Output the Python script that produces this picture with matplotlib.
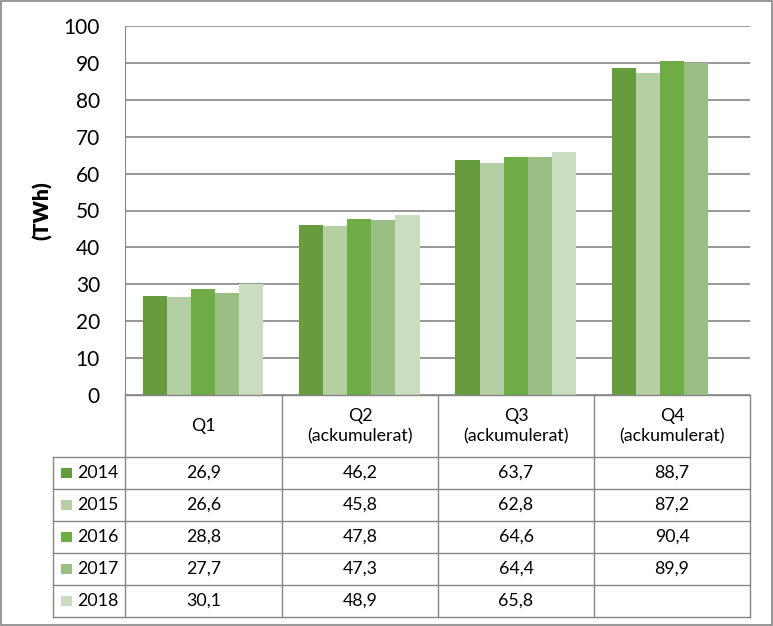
import matplotlib
matplotlib.use("Agg")
import matplotlib.pyplot as plt
from matplotlib.patches import Rectangle
from matplotlib.lines import Line2D
import numpy as np

plt.rcParams['font.family'] = ['Lato', 'DejaVu Sans']

categories = ["Q1", "Q2\n(ackumulerat)", "Q3\n(ackumulerat)", "Q4\n(ackumulerat)"]
years = ["2014", "2015", "2016", "2017", "2018"]
v2014 = [26.9, 46.2, 63.7, 88.7]
v2015 = [26.6, 45.8, 62.8, 87.2]
v2016 = [28.8, 47.8, 64.6, 90.4]
v2017 = [27.7, 47.3, 64.4, 89.9]
v2018 = [30.1, 48.9, 65.8, None]
series = [v2014, v2015, v2016, v2017, v2018]
colors = ["#669C3D", "#B4CFA3", "#6FAC46", "#9ABF85", "#CADDC0"]
yticks = [0, 10, 20, 30, 40, 50, 60, 70, 80, 90, 100]

W, H = 773, 626
fig = plt.figure(figsize=(W / 100, H / 100), dpi=100)

def fx(px):
    return px / W

def fy(py):
    return 1 - py / H

x_left, x_right = 125, 750
y_top, y_zero = 26, 395
ax = fig.add_axes([fx(x_left), fy(y_zero), fx(x_right) - fx(x_left), fy(y_top) - fy(y_zero)])
ax.set_ylim(0, 100)
ax.set_xlim(-0.5, len(categories) - 0.5)
ax.set_yticks(yticks)
ax.set_yticklabels([str(t) for t in yticks], fontsize=15)
ax.tick_params(axis='y', length=0, pad=18)
ax.set_xticks([])
for s in ['top', 'right', 'bottom']:
    ax.spines[s].set_visible(False)
ax.spines['left'].set_color('#868686')
ax.yaxis.grid(True, color='#868686', linewidth=1.2)
ax.set_axisbelow(True)
ax.set_ylabel("(TWh)", fontsize=15, fontweight='heavy', labelpad=8)

n = len(series)
bw = 0.154
x = np.arange(len(categories))
for i, (vals, c) in enumerate(zip(series, colors)):
    xs = [xi + (i - (n - 1) / 2) * bw for xi, v in zip(x, vals) if v is not None]
    hs = [v for v in vals if v is not None]
    ax.bar(xs, hs, width=bw, color=c, zorder=3)

# table
line_c = '#868686'
col_edges = [125, 282, 438, 594, 750]
row_edges = [395, 457, 489, 521, 553, 585, 617]
leg_left = 53
fs = 12.8

def hline(y, x0, x1):
    fig.add_artist(Line2D([fx(x0), fx(x1)], [fy(y), fy(y)], color=line_c, lw=1.0))

def vline(x0, y0, y1):
    fig.add_artist(Line2D([fx(x0), fx(x0)], [fy(y0), fy(y1)], color=line_c, lw=1.0))

hline(395, 125, 750)
for y in row_edges[1:]:
    hline(y, leg_left, 750)
for xe in col_edges:
    vline(xe, 395, 617)
vline(leg_left, 457, 617)

# header
for j, cat in enumerate(categories):
    cx = (col_edges[j] + col_edges[j + 1]) / 2
    cy = (row_edges[0] + row_edges[1]) / 2
    fig.text(fx(cx), fy(cy), cat, ha='center', va='center', fontsize=fs, linespacing=1.3)

# rows
for i, (yr, vals, c) in enumerate(zip(years, series, colors)):
    cy = (row_edges[i + 1] + row_edges[i + 2]) / 2
    fig.add_artist(Rectangle((fx(61), fy(cy + 5)), fx(11), fy(cy - 5) - fy(cy + 5),
                             facecolor=c, edgecolor='none'))
    fig.text(fx(77), fy(cy), yr, ha='left', va='center', fontsize=fs)
    for j, v in enumerate(vals):
        if v is None:
            continue
        cx = (col_edges[j] + col_edges[j + 1]) / 2
        fig.text(fx(cx), fy(cy), f"{v:.1f}".replace('.', ','), ha='center', va='center', fontsize=fs)

# outer border
fig.add_artist(Rectangle((fx(1), fy(H - 1)), fx(W - 2), fy(1) - fy(H - 1), fill=False,
                         edgecolor='#868686', lw=1.2))

fig.savefig("out.png", dpi=100)
